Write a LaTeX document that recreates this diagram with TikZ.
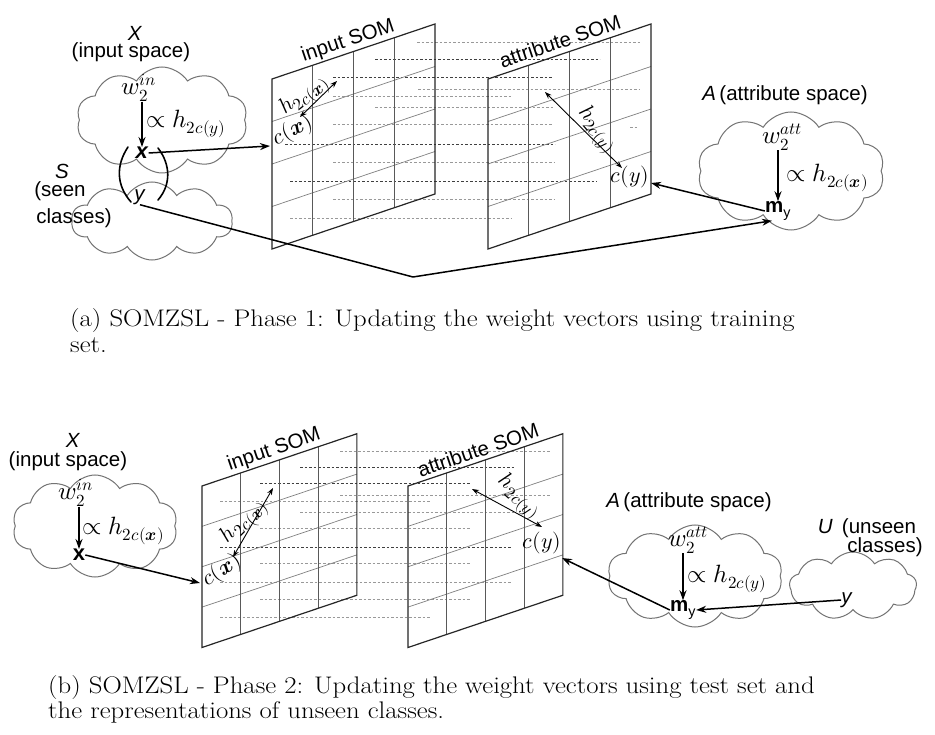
\documentclass[tikz,border=0pt]{standalone}
\usepackage{fontspec}
\usepackage{unicode-math}
\setmathfont{Latin Modern Math}
\setsansfont{Liberation Sans}
\usepackage{graphicx}
\usetikzlibrary{arrows.meta,shapes.symbols}
\newcommand\smallm[1]{\hbox{\fontsize{17}{18}\selectfont$#1$}}
\newcommand\hsubx[1]{h_{\smallm{#1}}}
\newcommand\wsub[1]{w_{\smallm{2}}^{\smallm{#1}}}
\tikzset{
  lbl/.style={font=\sffamily\fontsize{20.5}{24}\selectfont, inner sep=0pt},
  boldx/.style={font=\sffamily\bfseries\fontsize{22}{24}\selectfont, inner sep=0pt},
  mth/.style={font=\fontsize{25}{28}\selectfont, inner sep=0pt},
  mths/.style={font=\fontsize{22}{26}\selectfont, inner sep=0pt},
  captext/.style={font=\fontsize{24}{28}\selectfont, inner sep=0pt, anchor=base west},
  arr/.style={line width=1.5pt, -{Stealth[length=10pt,width=7pt]}},
  darr/.style={line width=0.9pt, {Stealth[length=7pt,width=5pt]}-{Stealth[length=7pt,width=5pt]}},
  paren/.style={line width=1.6pt, line cap=round},
  cloudshape/.style={cloud, cloud puffs=10, cloud puff arc=115, cloud ignores aspect, draw=black!55, line width=1pt, inner sep=0pt},
  frame/.style={line width=1.2pt, draw=black!85},
  vline/.style={line width=1.2pt, draw=black!65},
  hline/.style={line width=0.7pt, draw=black!50},
  dsh/.style={dash pattern=on 2.5pt off 2pt, line width=0.8pt, draw=black!40},
  dshd/.style={dash pattern=on 2.5pt off 2pt, line width=0.9pt, draw=black!75},
  som/.pic={
    \draw[hline] \foreach \j in {1,2,3} { (0,42.5*\j) -- (163,42.5*\j-55) };
    \draw[vline] \foreach \i in {1,2,3} { (40.75*\i,-13.75*\i) -- (40.75*\i,170-13.75*\i) };
    \draw[frame] (0,0) coordinate (-tl) -- (163,-55) coordinate (-tr) -- (163,115) coordinate (-br) -- (0,170) coordinate (-bl) -- cycle;
  }
}
\begin{document}
\begin{tikzpicture}[x=1pt,y=-1pt]
\useasboundingbox (0,0) rectangle (935,735);
\fill[white] (0,0) rectangle (935,735);

% ================= Panel (a) =================
\foreach \yy/\xa/\xb/\st in {42/417/640/dsh, 59/375/600/dshd, 77/333/553/dshd, 89/418/640/dsh,
  96/333/512/dsh, 107/375/553/dsh, 124/333/553/dsh, 144/285/555/dshd, 162/333/555/dsh,
  181/290/597/dshd, 199/333/555/dsh, 218/290/512/dsh}
  \draw[\st] (\xa,\yy) -- (\xb,\yy);
\draw[dsh] (630,127) -- (638,127);

\pic (inA) at (272,79) {som};
\pic (atA) at (488,79) {som};

\node[cloudshape, minimum width=171pt, minimum height=106pt] (cloudX) at (162,120) {};
\node[cloudshape, minimum width=161pt, minimum height=78pt] (cloudS) at (152,221) {};
\node[cloudshape, minimum width=187pt, minimum height=118pt] (cloudA) at (791,171) {};

\node[lbl] (XA) at (135,33) {\textit{X}};
\node[lbl] (inspA) at (131,52) {(input space)};
\node[mth] (wA) at (139,88) {$\wsub{in}$};
\node[mth, anchor=west] (hA) at (146,124) {$\propto \hsubx{2c(y)}$};
\node[boldx] (xA) at (142,153) {\textit{x}};
\node[lbl] (yA) at (140,197) {\textit{y}};
\node[lbl] (SA) at (62,171) {\textit{S}};
\node[lbl] (seenA) at (60,191) {(seen};
\node[lbl] (clsA) at (74,218) {classes)};
\draw[paren] (128,147) .. controls (116,165) and (116,185) .. (131,202);
\draw[paren] (158,148) .. controls (171,165) and (171,185) .. (158,200);

\node[lbl, rotate=18.6] (isomA) at (348,41) {input SOM};
\node[lbl, rotate=18.6] (asomA) at (560,41) {attribute SOM};
\node[mths, rotate=26] (cxA) at (293,131) {$c(\symbfit{x})$};
\node[mths, rotate=38] (hxA) at (305,96) {$\hsubx{2c(\symbfit{x})}$};
\coordinate (dxa1) at (300,117);
\coordinate (dxa2) at (337,81);
\draw[darr] (dxa1) -- (dxa2);
\node[mths, rotate=-50] (hyA) at (597,130) {$\hsubx{2c(y)}$};
\coordinate (dya1) at (545,92);
\coordinate (dya2) at (622,168);
\draw[darr] (dya1) -- (dya2);
\node[mths] (cyA) at (630,177) {$c(y)$};

\node[lbl] (AA) at (785,95) {\textit{A}\,(attribute space)};
\node[mth] (wattA) at (782,137) {$\wsub{att}$};
\node[mth, anchor=west] (hattA) at (786,178) {$\propto \hsubx{2c(\symbfit{x})}$};
\node[lbl] (myA) at (778,211) {\textbf{m}\textsubscript{y}};

\coordinate (inAin) at (270,146);
\coordinate (atAin) at (651,183);
\coordinate (vA) at (413,277);
\draw[arr] (wA.south -| xA.north) -- (xA.north);
\draw[arr] (xA.east) -- (inAin);
\draw[line width=1.5pt] (yA.south) -- (vA);
\draw[arr] (vA) -- ([xshift=-6pt]myA.south);
\draw[arr] (wattA.south -| myA.north) -- (myA.north);
\draw[arr] (myA.west) -- (atAin);

\node[captext] (capA1) at (70,327) {\scalebox{1.115}[1]{(a) SOMZSL - Phase 1: Updating the weight vectors using training}};
\node[captext] (capA2) at (70,353) {\scalebox{1.115}[1]{set.}};

% ================= Panel (b) =================
\foreach \yy/\xa/\xb/\st in {451/340/550/dsh, 467/300/515/dshd, 483/260/470/dshd, 495/340/550/dsh,
  501/220/430/dsh, 512/300/515/dsh, 528/260/470/dsh, 547/220/512/dshd, 563/260/470/dsh,
  582/220/512/dsh, 599/260/470/dsh, 617/220/430/dsh}
  \draw[\st] (\xa,\yy) -- (\xb,\yy);

\pic[scale=0.95] (inB) at (202,486) {som};
\pic[scale=0.95] (atB) at (408,486) {som};

\node[cloudshape, minimum width=165pt, minimum height=102pt] (cloudXB) at (95,526) {};
\node[cloudshape, minimum width=175pt, minimum height=102pt] (cloudAB) at (695,576) {};
\node[cloudshape, minimum width=127pt, minimum height=68pt, cloud puffs=9] (cloudUB) at (853,586) {};

\node[lbl] (XB) at (73,440) {\textit{X}};
\node[lbl] (inspB) at (68,461) {(input space)};
\node[mth] (wB) at (76,493) {$\wsub{in}$};
\node[mth, anchor=west] (hB) at (82,531) {$\propto \hsubx{2c(\symbfit{x})}$};
\node[boldx] (xB) at (79,555) {x};

\node[lbl, rotate=18.9] (isomB) at (274,450) {input SOM};
\node[lbl, rotate=18.9] (asomB) at (478,450) {attribute SOM};
\node[mths, rotate=45] (hxB) at (245,522) {$\hsubx{2c(\symbfit{x})}$};
\coordinate (dxb1) at (233,557);
\coordinate (dxb2) at (273,488);
\draw[darr] (dxb1) -- (dxb2);
\node[mths, rotate=33] (cxB) at (222,571) {$c(\symbfit{x})$};
\node[mths, rotate=-42] (hyB) at (519,497) {$\hsubx{2c(y)}$};
\coordinate (dyb1) at (472,489);
\coordinate (dyb2) at (542,527);
\draw[darr] (dyb1) -- (dyb2);
\node[mths] (cyB) at (542,543) {$c(y)$};

\node[lbl] (AB) at (689,502) {\textit{A}\,(attribute space)};
\node[mth] (wattB) at (688,540) {$\wsub{att}$};
\node[mth, anchor=west] (hattB) at (687,579) {$\propto \hsubx{2c(y)}$};
\node[lbl] (myB) at (683,610) {\textbf{m}\textsubscript{y}};
\node[lbl] (UB) at (867,528) {\textit{U}\, (unseen};
\node[lbl] (clsB) at (885,547) {classes)};
\node[lbl] (yB) at (847,600) {\textit{y}};

\coordinate (inBin) at (200,583);
\coordinate (atBin) at (562,558);
\draw[arr] (wB.south -| xB.north) -- (xB.north);
\draw[arr] (xB.east) -- (inBin);
\draw[arr] (wattB.south -| myB.north) -- (myB.north);
\draw[arr] (myB.west) -- (atBin);
\draw[arr] (yB.west) -- (myB.east);

\node[captext] (capB1) at (48,693) {\scalebox{1.115}[1]{(b) SOMZSL - Phase 2: Updating the weight vectors using test set and}};
\node[captext] (capB2) at (48,718) {\scalebox{1.115}[1]{the representations of unseen classes.}};
\end{tikzpicture}
\end{document}
